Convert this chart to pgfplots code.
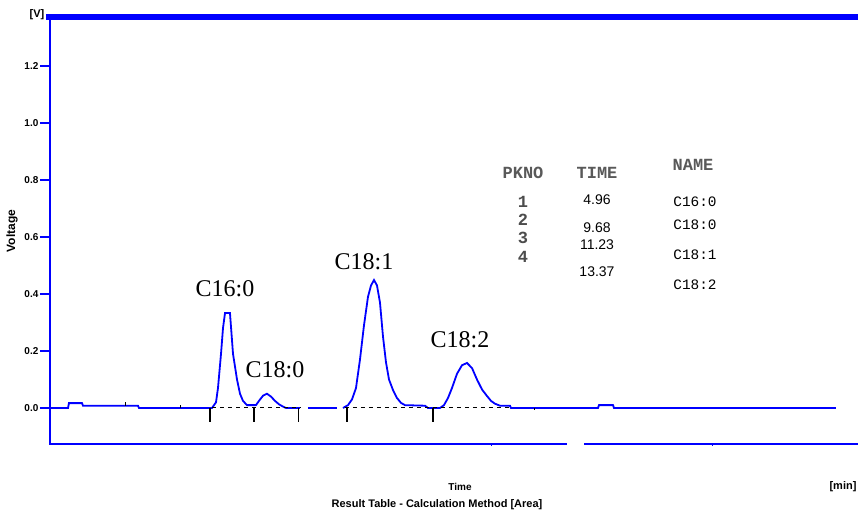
\documentclass[border=0pt]{standalone}
\usepackage{pgfplots}
\pgfplotsset{compat=1.18}
\usepackage{fontspec}
\setmainfont{Liberation Serif}
\setsansfont{Liberation Sans}
\setmonofont{Liberation Mono}
\definecolor{tblue}{RGB}{0,0,255}
\begin{document}
\begin{tikzpicture}
\begin{axis}[
  scale only axis, width=404pt, height=213.5pt,
  xmin=0, xmax=20, ymin=-0.1263, ymax=1.372,
  axis line style={draw=none},
  clip=false,
  xtick=\empty,
  ytick={0,0.2,0.4,0.6,0.8,1.0,1.2},
  yticklabels={0.0,0.2,0.4,0.6,0.8,1.0,1.2},
  ytick pos=left,
  tick align=outside,
  major tick length=5pt,
  tick style={tblue, line width=0.6pt},
  yticklabel style={font=\sffamily\bfseries\fontsize{5}{6}\selectfont, inner sep=0.6pt},
]
% chromatogram trace
\addplot[tblue, line width=0.9pt] coordinates {
(0,0) (0.446,0) (0.470,0.017) (0.792,0.017) (0.817,0.008) (2.178,0.008) (2.203,0)
(4.010,0) (4.035,0.005) (4.109,0.02) (4.158,0.07) (4.233,0.19) (4.282,0.28) (4.332,0.333)
(4.455,0.333) (4.530,0.19) (4.629,0.10) (4.703,0.05) (4.777,0.025) (4.876,0.01) (5.099,0.01)
(5.173,0.025) (5.272,0.043) (5.371,0.05) (5.470,0.04) (5.569,0.025) (5.668,0.013) (5.767,0.005)
(5.842,0) (6.188,0)
};
\addplot[tblue, line width=0.9pt] coordinates {(6.386,0) (7.104,0)};
\addplot[tblue, line width=0.9pt] coordinates {
(7.252,0) (7.376,0.01) (7.475,0.03) (7.574,0.07) (7.673,0.17) (7.772,0.29) (7.871,0.39)
(7.946,0.43) (8.020,0.449) (8.094,0.43) (8.168,0.37) (8.243,0.25) (8.317,0.16) (8.391,0.10)
(8.490,0.063) (8.589,0.035) (8.688,0.018) (8.787,0.01) (9.282,0.008) (9.356,0) (9.653,0)
(9.752,0.01) (9.851,0.035) (9.950,0.07) (10.074,0.12) (10.198,0.15) (10.322,0.158) (10.446,0.14)
(10.569,0.10) (10.693,0.065) (10.817,0.042) (10.916,0.025) (11.015,0.015) (11.139,0.008)
(11.386,0.008) (11.411,0) (13.564,0) (13.589,0.01) (13.936,0.01) (13.960,0) (19.455,0)
};
% integration baselines
\addplot[black, line width=0.5pt, dash pattern=on 2pt off 2pt] coordinates {(4.01,0) (6.19,0)};
\addplot[black, line width=0.5pt, dash pattern=on 2pt off 2pt] coordinates {(7.30,0) (11.39,0)};
% peak start/end markers
\foreach \t in {3.96,5.05,6.16,7.35,9.48}{
  \edef\temp{\noexpand\draw[black, line width=0.6pt] (axis cs:\t,0) -- (axis cs:\t,-0.05);}
  \temp
}
\draw[black, line width=0.5pt] (axis cs:1.88,0.008) -- (axis cs:1.88,0.02);
\draw[black, line width=0.5pt] (axis cs:3.24,0) -- (axis cs:3.24,0.012);
\draw[black, line width=0.5pt] (axis cs:12.0,0) -- (axis cs:12.0,-0.006);
% frame
\draw[tblue, line width=3pt] (axis cs:-0.1,1.372) -- (axis cs:20,1.372);
\draw[tblue, line width=0.8pt] (axis cs:0,1.372) -- (axis cs:0,-0.1263);
\draw[tblue, line width=0.8pt] (axis cs:-0.02,-0.1263) -- (axis cs:12.80,-0.1263);
\draw[tblue, line width=0.8pt] (axis cs:13.22,-0.1263) -- (axis cs:20,-0.1263);
\draw[tblue, line width=0.5pt] (axis cs:10.92,-0.1263) -- (axis cs:10.92,-0.133);
\draw[tblue, line width=0.5pt] (axis cs:16.41,-0.1263) -- (axis cs:16.41,-0.133);
\end{axis}
% peak labels
\node[font=\fontsize{12}{14}\selectfont] at (87.5pt,77.5pt) {C16:0};
\node[font=\fontsize{12}{14}\selectfont] at (112.5pt,37pt) {C18:0};
\node[font=\fontsize{12}{14}\selectfont] at (157pt,91pt) {C18:1};
\node[font=\fontsize{12}{14}\selectfont] at (205pt,52pt) {C18:2};
% result table
\begin{scope}[every node/.style={inner sep=0pt}]
\node[font=\ttfamily\bfseries\fontsize{8.5}{10}\selectfont, text=black!65] at (236.5pt,135.5pt) {PKNO};
\node[font=\ttfamily\bfseries\fontsize{8.5}{10}\selectfont, text=black!65] at (273.5pt,135.5pt) {TIME};
\node[font=\ttfamily\bfseries\fontsize{8.5}{10}\selectfont, text=black!65] at (321.5pt,139.5pt) {NAME};
\node[font=\ttfamily\bfseries\fontsize{8.5}{10}\selectfont, text=black!70] at (236.5pt,121pt) {1};
\node[font=\ttfamily\bfseries\fontsize{8.5}{10}\selectfont, text=black!70] at (236.5pt,112pt) {2};
\node[font=\ttfamily\bfseries\fontsize{8.5}{10}\selectfont, text=black!70] at (236.5pt,103pt) {3};
\node[font=\ttfamily\bfseries\fontsize{8.5}{10}\selectfont, text=black!70] at (236.5pt,93.5pt) {4};
\node[font=\sffamily\fontsize{7}{8}\selectfont] at (273.5pt,122pt) {4.96};
\node[font=\sffamily\fontsize{7}{8}\selectfont] at (273.5pt,108pt) {9.68};
\node[font=\sffamily\fontsize{7}{8}\selectfont] at (273.5pt,99.5pt) {11.23};
\node[font=\sffamily\fontsize{7}{8}\selectfont] at (273.5pt,86pt) {13.37};
\node[font=\ttfamily\fontsize{7.2}{8}\selectfont] at (322.5pt,121pt) {C16:0};
\node[font=\ttfamily\fontsize{7.2}{8}\selectfont] at (322.5pt,109.5pt) {C18:0};
\node[font=\ttfamily\fontsize{7.2}{8}\selectfont] at (322.5pt,94.5pt) {C18:1};
\node[font=\ttfamily\fontsize{7.2}{8}\selectfont] at (322.5pt,79.5pt) {C18:2};
\end{scope}
% axis texts
\node[font=\sffamily\bfseries\fontsize{5.5}{6}\selectfont] at (-6.5pt,214.5pt) {[V]};
\node[font=\sffamily\bfseries\fontsize{6}{7}\selectfont, rotate=90] at (-19pt,106.5pt) {Voltage};
\node[font=\sffamily\bfseries\fontsize{5}{6}\selectfont] at (205pt,-21.5pt) {Time};
\node[font=\sffamily\bfseries\fontsize{5.5}{6}\selectfont] at (193.5pt,-30.5pt) {Result Table - Calculation Method [Area]};
\node[font=\sffamily\bfseries\fontsize{5.5}{6}\selectfont] at (396.5pt,-21.5pt) {[min]};
\pgfresetboundingbox
\path[use as bounding box] (-25pt,-34pt) rectangle (404pt,222pt);
\end{tikzpicture}
\end{document}
